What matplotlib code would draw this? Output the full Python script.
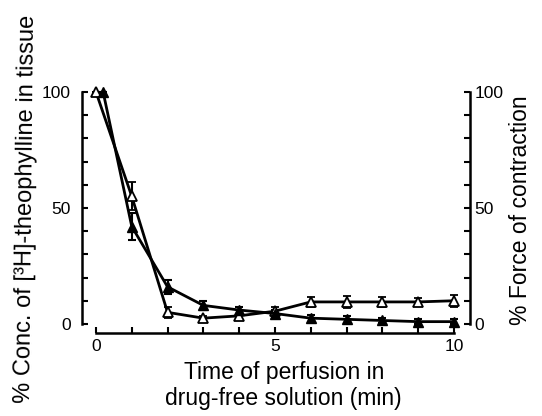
import matplotlib.pyplot as plt
from matplotlib.ticker import MultipleLocator

plt.rcParams['font.family'] = ['Liberation Sans', 'DejaVu Sans']

# data
time = [0, 1, 2, 3, 4, 5, 6, 7, 8, 9, 10]
open_vals = [100, 55, 5, 2.5, 3.5, 5.5, 9.5, 9.5, 9.5, 9.5, 10]
open_err = [0, 6, 2.5, 1, 1, 2, 2, 2.5, 2, 1.5, 2.5]
filled_time = [0.2, 1, 2, 3, 4, 5, 6, 7, 8, 9, 10]
filled_vals = [100, 42, 16, 8, 6, 4.5, 2.5, 2, 1.5, 1, 1]
filled_err = [0, 6, 3, 2, 1.5, 1.5, 1.5, 1.5, 1, 1, 1]

fig = plt.figure(figsize=(5.42, 4.16), dpi=100)
ax = fig.add_axes([0.1513, 0.1995, 0.7159, 0.589])

ax.errorbar(time, open_vals, yerr=open_err, color='black', lw=2,
            marker='^', ms=7, mfc='white', mec='black', mew=1.3,
            capsize=3, elinewidth=1.5, capthick=1.5, clip_on=False)
ax.errorbar(filled_time, filled_vals, yerr=filled_err, color='black', lw=2,
            marker='^', ms=7, mfc='black', mec='black',
            capsize=3, elinewidth=1.5, capthick=1.5, clip_on=False)

ax.set_xlim(-0.39, 10.45)
ax.set_ylim(-3.9, 101.7)

ax.spines['top'].set_visible(False)
ax.spines['right'].set_visible(False)
ax.spines['left'].set_bounds(0, 100)
ax.spines['bottom'].set_bounds(0, 10)
for s in ['left', 'bottom']:
    ax.spines[s].set_linewidth(1.8)

ax.set_xticks([0, 5, 10])
ax.xaxis.set_minor_locator(MultipleLocator(1))
ax.set_yticks([0, 50, 100])
ax.yaxis.set_minor_locator(MultipleLocator(10))
ax.tick_params(axis='both', which='both', direction='in', length=4, width=1.5,
               labelsize=12.5)
ax.tick_params(axis='y', pad=8)
ax.tick_params(axis='x', pad=4)

ax.set_xlabel('Time of perfusion in\ndrug-free solution (min)', fontsize=16.5,
              linespacing=1.15)
ax.xaxis.set_label_coords(0.52, -0.114)

# left label, slightly tilted like the scan
fig.text(26 / 542, 1 - 209 / 416, '% Conc. of [³H]-theophylline in tissue',
         fontsize=17, rotation=89.4, rotation_mode='anchor',
         ha='center', va='center')

ax2 = ax.twinx()
ax2.set_ylim(ax.get_ylim())
for s in ['top', 'left', 'bottom']:
    ax2.spines[s].set_visible(False)
ax2.spines['right'].set_bounds(0, 100)
ax2.spines['right'].set_linewidth(1.8)
ax2.set_yticks([0, 50, 100])
ax2.yaxis.set_minor_locator(MultipleLocator(10))
ax2.tick_params(axis='y', which='both', direction='in', length=4, width=1.5,
                labelsize=12.5, pad=3)
ax2.set_ylabel('% Force of contraction', fontsize=16.5)
ax2.yaxis.set_label_coords(1.10, 0.5)

fig.savefig('out.png', dpi=100)
